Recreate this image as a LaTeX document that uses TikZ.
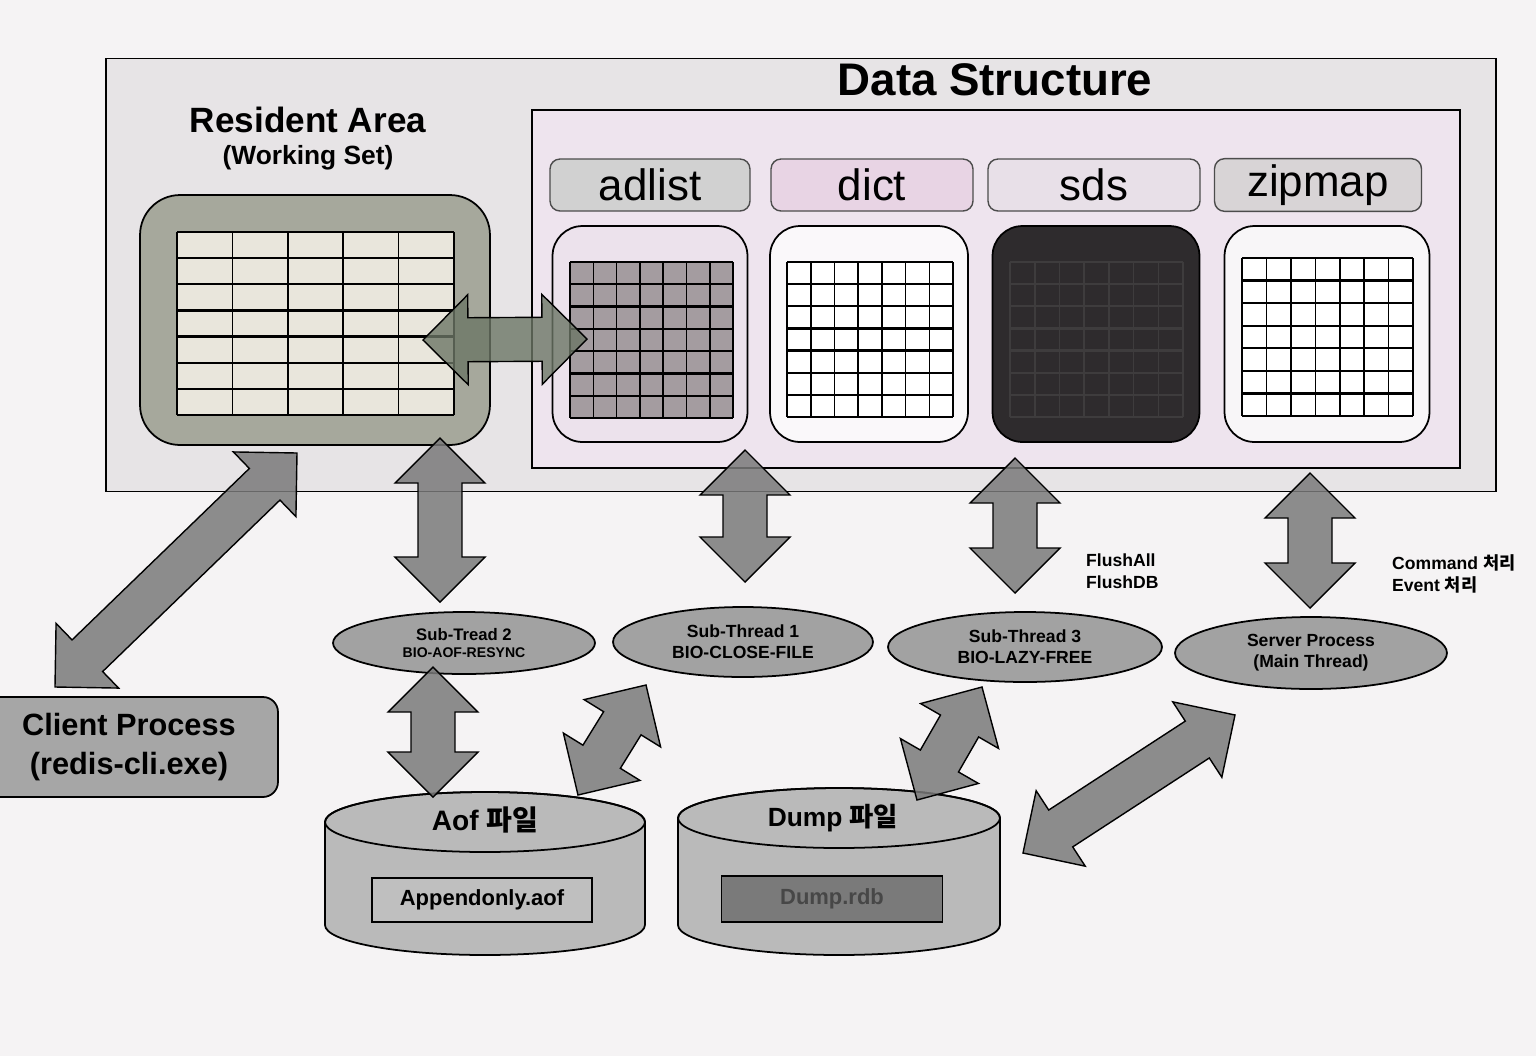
\documentclass[tikz,border=0pt]{standalone}
\usepackage{fontspec}
\setmainfont{Liberation Sans}
\newfontfamily\kr{Noto Sans CJK KR}
\usepackage{xcolor}
\usetikzlibrary{calc}
\usetikzlibrary{shapes.geometric}
\definecolor{paper}{RGB}{245,243,244}
\definecolor{outerfill}{RGB}{231,228,230}
\definecolor{dsfill}{RGB}{238,228,238}
\definecolor{resfill}{RGB}{166,168,156}
\definecolor{resgrid}{RGB}{233,230,220}
\definecolor{adgrid}{RGB}{164,156,160}
\definecolor{sdsdark}{RGB}{46,43,45}
\definecolor{sdsline}{RGB}{62,60,61}
\definecolor{arrowgray}{RGB}{122,122,122}
\definecolor{sidegreen}{RGB}{108,118,102}
\definecolor{ellgray}{RGB}{162,162,162}
\definecolor{cylgray}{RGB}{186,186,186}

% fat two-headed arrow between two points
\newcommand{\fatarrow}[3][]{%
  \draw[fatarrow,#1] (#2) -- ($(#2)!0.9cm!(#3)!0.9cm!90:(#3)$) -- ($(#2)!0.9cm!(#3)!0.44cm!90:(#3)$)
    -- ($(#3)!0.9cm!(#2)!0.44cm!-90:(#2)$) -- ($(#3)!0.9cm!(#2)!0.9cm!-90:(#2)$) -- (#3)
    -- ($(#3)!0.9cm!(#2)!0.9cm!90:(#2)$) -- ($(#3)!0.9cm!(#2)!0.44cm!90:(#2)$)
    -- ($(#2)!0.9cm!(#3)!0.44cm!-90:(#3)$) -- ($(#2)!0.9cm!(#3)!0.9cm!-90:(#3)$) -- cycle;}

% table of cells: x0 y0 x1 y1 cols rows
\newcommand{\cellgrid}[7][black]{%
  \foreach \i in {0,...,#6} \draw[#1, line width=0.9pt] ({#2+\i*(#4-#2)/#6},#3) -- ({#2+\i*(#4-#2)/#6},#5);
  \foreach \j in {0,...,#7} \draw[#1, line width=1.3pt] (#2,{#3+\j*(#5-#3)/#7}) -- (#4,{#3+\j*(#5-#3)/#7});}

\begin{document}
\begin{tikzpicture}[x=0.02cm, y=-0.02cm,
  fatarrow/.style={draw, line width=0.8pt, fill=arrowgray, fill opacity=0.85, line join=miter},
  dslabel/.style={draw=black!70, line width=0.8pt, rounded corners=0.2cm, minimum height=1.04cm, font=\fontsize{25}{28}\selectfont},
  panel/.style={draw, line width=1pt, rounded corners=0.6cm, minimum height=4.32cm},
  thread/.style={ellipse, draw, line width=1pt, fill=ellgray, align=center, inner sep=0pt, font=\bfseries\fontsize{10}{12}\selectfont},
  note/.style={anchor=west, align=left, font=\bfseries\fontsize{10}{12.5}\selectfont}]
	\fill[paper] (0,0) rectangle (1536,1056);
	\useasboundingbox (0,0) rectangle (1536,1056);
	\clip (0,0) rectangle (1536,1056);
	
	%% memory
	\node[draw, line width=1pt, fill=outerfill, minimum width=27.8cm, minimum height=8.66cm] (outer) at (801,275) {};
	\node[font=\bfseries\fontsize{26}{30}\selectfont] (dstitle) at (995,80) {Data Structure};
	\node[font=\bfseries\fontsize{20}{24}\selectfont] (restitle) at (308,120) {Resident Area};
	\node[font=\bfseries\fontsize{15}{18}\selectfont] (ressub) at (308,158) {(Working Set)};
	
	\node[draw, line width=1pt, fill=dsfill, minimum width=18.56cm, minimum height=7.16cm] (ds) at (996,289) {};
	
	\node[dslabel, fill=black!18, minimum width=4cm] (adlistlbl) at (650,185) {adlist};
	\node[dslabel, fill={rgb,255:red,232;green,212;blue,228}, minimum width=4.04cm] (dictlbl) at (872,185) {dict};
	\node[dslabel, fill={rgb,255:red,232;green,224;blue,232}, minimum width=4.24cm] (sdslbl) at (1094,185) {sds};
	\node[dslabel, fill={rgb,255:red,216;green,212;blue,214}, minimum width=4.14cm] (zipmaplbl) at (1318,185) {zipmap};
	
	\node[panel, fill={rgb,255:red,236;green,226;blue,236}, minimum width=3.9cm] (adlistpan) at (650,334) {};
	\node[panel, fill={rgb,255:red,250;green,248;blue,250}, minimum width=3.96cm] (dictpan) at (869,334) {};
	\node[panel, fill=sdsdark, minimum width=4.14cm] (sdspan) at (1096,334) {};
	\node[panel, fill={rgb,255:red,248;green,246;blue,248}, minimum width=4.1cm] (zippan) at (1327,334) {};
	
	\fill[adgrid] (570,262) rectangle (733,418);
	\cellgrid{570}{262}{733}{418}{7}{7}
	\fill[white] (787,262) rectangle (953,417);
	\cellgrid{787}{262}{953}{417}{7}{7}
	\cellgrid[sdsline]{1010}{262}{1183}{417}{7}{7}
	\fill[white] (1242,258) rectangle (1413,416);
	\cellgrid{1242}{258}{1413}{416}{7}{7}
	
	\node[draw, line width=1pt, fill=resfill, rounded corners=0.8cm, minimum width=7cm, minimum height=5cm] (res) at (315,320) {};
	\fill[resgrid] (177,232) rectangle (454,415);
	\cellgrid{177}{232}{454}{415}{5}{7}
	
	%% processes
	\node[draw, line width=1pt, fill=black!35, rounded corners=0.3cm, minimum width=5.96cm, minimum height=2cm, align=center, font=\bfseries\fontsize{17.5}{22}\selectfont] (client) at (129,747) {Client Process\\(redis-cli.exe)};
	
	\node[thread, minimum width=5.24cm, minimum height=1.24cm, font=\bfseries\fontsize{9.5}{10}\selectfont] (st2) at (464,643) {Sub-Tread 2\\\fontsize{8}{10}\selectfont BIO-AOF-RESYNC};
	\node[thread, minimum width=5.2cm, minimum height=1.4cm] (st1) at (743,642) {Sub-Thread 1\\BIO-CLOSE-FILE};
	\node[thread, minimum width=5.48cm, minimum height=1.4cm] (st3) at (1025,647) {Sub-Thread 3\\BIO-LAZY-FREE};
	\node[thread, minimum width=5.44cm, minimum height=1.44cm] (srv) at (1311,653) {Server Process\\(Main Thread)};
	
	\node[note] (flush) at (1080,571) {FlushAll\\FlushDB};
	\node[note] (cmd) at (1386,574) {Command {\kr 처리}\\Event {\kr 처리}};
	
	%% files
	\draw[line width=1pt, fill=cylgray] (325,822) -- (325,925) arc[start angle=180, end angle=360, x radius=3.2cm, y radius=0.6cm] -- (645,822) arc[start angle=0, end angle=180, x radius=3.2cm, y radius=0.6cm] -- cycle;
	\draw[line width=1pt] (485,822) ellipse [x radius=3.2cm, y radius=0.6cm];
	\node[font=\bfseries\fontsize{16}{18}\selectfont] (aof) at (485,820) {Aof {\kr 파일}};
	\node[draw, line width=1pt, fill=black!25, minimum width=4.4cm, minimum height=0.88cm, font=\bfseries\fontsize{12.5}{14}\selectfont] (aoffile) at (482,900) {Appendonly.aof};
	
	\draw[line width=1pt, fill=cylgray] (678,818) -- (678,925) arc[start angle=180, end angle=360, x radius=3.22cm, y radius=0.6cm] -- (1000,818) arc[start angle=0, end angle=180, x radius=3.22cm, y radius=0.6cm] -- cycle;
	\draw[line width=1pt] (839,818) ellipse [x radius=3.22cm, y radius=0.6cm];
	\node[font=\bfseries\fontsize{15}{18}\selectfont] (dump) at (833,818) {Dump {\kr 파일}};
	\node[draw, line width=1pt, fill=black!52, text=black!72, minimum width=4.42cm, minimum height=0.92cm, font=\bfseries\fontsize{12.5}{14}\selectfont] (dumpfile) at (832,899) {Dump.rdb};
	
	%% arrow ends
	\coordinate (r1) at (423,340);  \coordinate (r2) at (587,339);
	\coordinate (a1) at (440,438);  \coordinate (a2) at (440,602);
	\coordinate (b1) at (745,450);  \coordinate (b2) at (745,582);
	\coordinate (c1) at (1015,458); \coordinate (c2) at (1015,593);
	\coordinate (d1) at (1310,473); \coordinate (d2) at (1310,608);
	\coordinate (e1) at (55,687);   \coordinate (e2) at (297,453);
	\coordinate (f1) at (433,667);  \coordinate (f2) at (433,797);
	\coordinate (g1) at (578,795);  \coordinate (g2) at (646,685);
	\coordinate (h1) at (917,800);  \coordinate (h2) at (982,687);
	\coordinate (k1) at (1023,853); \coordinate (k2) at (1235,715);
	
	\fatarrow[fill=sidegreen, fill opacity=0.8]{r1}{r2}
	\fatarrow{a1}{a2}
	\fatarrow{b1}{b2}
	\fatarrow{c1}{c2}
	\fatarrow{d1}{d2}
	\fatarrow{e1}{e2}
	\fatarrow{f1}{f2}
	\fatarrow{g1}{g2}
	\fatarrow{h1}{h2}
	\fatarrow{k1}{k2}
	
\end{tikzpicture}
\end{document}
